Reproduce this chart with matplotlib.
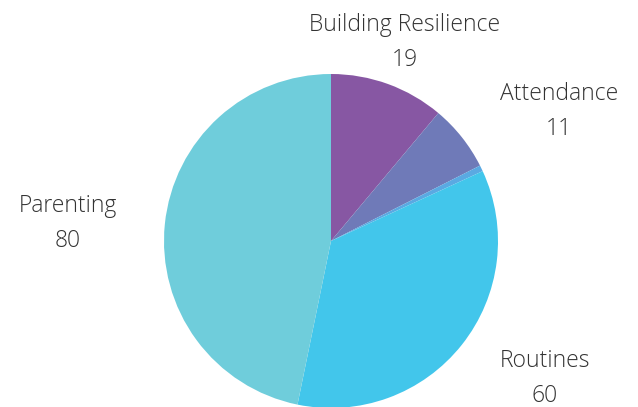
import matplotlib
matplotlib.use("Agg")
import matplotlib.pyplot as plt
from matplotlib.transforms import offset_copy

# slice data, clockwise from 12 o'clock
labels = ["Building Resilience", "Attendance", "", "Routines", "Parenting"]
values = [19, 11, 1, 60, 80]
colors = ["#8757a3", "#6f7ab8", "#5aa9e2", "#42c6eb", "#6fcddb"]
aligns = ["center", "left", "left", "left", "right"]

fig = plt.figure(figsize=(6.38, 4.07), dpi=100)
ax = fig.add_axes([0, 0, 1, 1])

texts = [f"{l}\n{v}" if l else "" for l, v in zip(labels, values)]
wedges, lbls = ax.pie(values, labels=texts, colors=colors, startangle=90,
                      counterclock=False, center=(331, 166), radius=167,
                      labeldistance=1.29, frame=True,
                      textprops=dict(fontfamily="Open Sans", fontweight="light",
                                     fontsize=16.5, color="#333333", linespacing=1.6))
ax.set_xlim(0, 638)
ax.set_ylim(0, 407)
ax.set_aspect("equal")
ax.axis("off")
# nudge labels down a few pixels
shift = offset_copy(ax.transData, fig=fig, x=0, y=-4, units="dots")
for t, a in zip(lbls, aligns):
    t.set_ha(a)
    t.set_multialignment("center")
    t.set_va("center")
    t.set_transform(shift)

fig.savefig("out.png", dpi=100)
